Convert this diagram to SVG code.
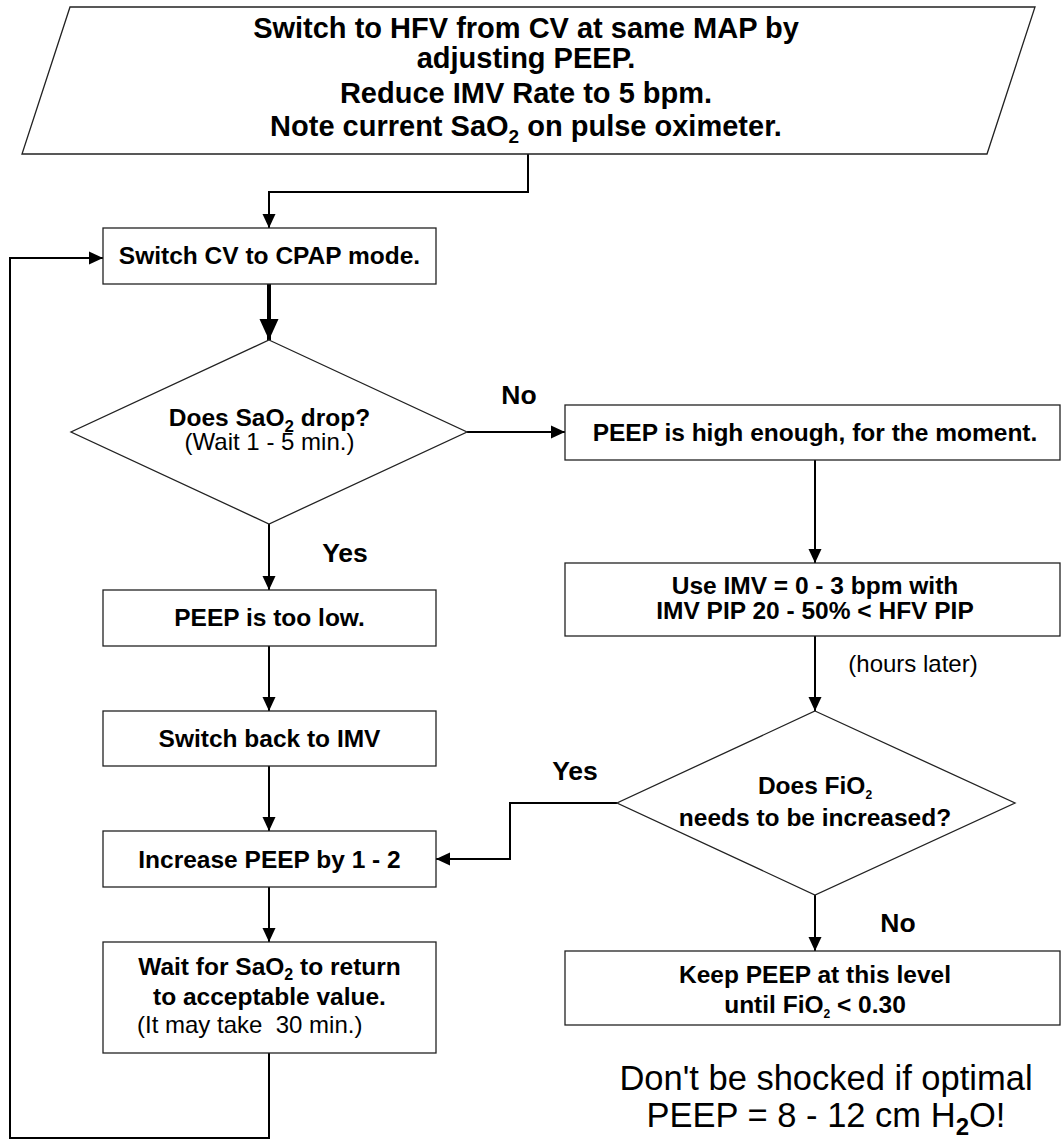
<svg xmlns="http://www.w3.org/2000/svg" width="1064" height="1141" viewBox="0 0 1064 1141">
<style>
  .shape { fill: #ffffff; stroke: #222222; stroke-width: 1.3; }
  .conn { fill: none; stroke: #000000; stroke-width: 2; }
  .thick { fill: none; stroke: #000000; stroke-width: 4; }
  text { font-family: "Liberation Sans", Arial, Helvetica, sans-serif; fill: #000000; }
  .b { font-weight: bold; font-size: 24.5px; text-anchor: middle; }
  .lbl { font-weight: bold; font-size: 26.5px; text-anchor: middle; }
  .r { font-size: 24px; text-anchor: middle; }
  .title { font-weight: bold; font-size: 29px; text-anchor: middle; }
  .note { font-size: 34.5px; text-anchor: middle; }
</style>
<defs>
  <marker id="arr" markerUnits="userSpaceOnUse" markerWidth="14" markerHeight="14" refX="14" refY="7" orient="auto">
    <path d="M0,0.5 L14,7 L0,13.5 z" fill="#000"/>
  </marker>
  <marker id="arrBig" markerUnits="userSpaceOnUse" markerWidth="21" markerHeight="20" refX="21" refY="10" orient="auto">
    <path d="M0,0.5 L21,10 L0,19.5 z" fill="#000"/>
  </marker>
</defs>
<rect width="1064" height="1141" fill="#ffffff"/>

<g id="connectors">
  <path class="conn" d="M528,154 V192 H269 V228" marker-end="url(#arr)"/>
  <path class="thick" d="M269,284 V340" marker-end="url(#arrBig)"/>
  <path class="conn" d="M467,432 H565" marker-end="url(#arr)"/>
  <path class="conn" d="M269,524 V590" marker-end="url(#arr)"/>
  <path class="conn" d="M269,646 V711" marker-end="url(#arr)"/>
  <path class="conn" d="M269,766 V831" marker-end="url(#arr)"/>
  <path class="conn" d="M269,887 V942" marker-end="url(#arr)"/>
  <path class="conn" d="M269,1053 V1138 H10 V258 H103" marker-end="url(#arr)"/>
  <path class="conn" d="M815,460 V563" marker-end="url(#arr)"/>
  <path class="conn" d="M815,636 V711" marker-end="url(#arr)"/>
  <path class="conn" d="M617,803 H510 V859 H436" marker-end="url(#arr)"/>
  <path class="conn" d="M815,895 V951" marker-end="url(#arr)"/>
  <text class="lbl" x="519" y="404">No</text>
  <text class="lbl" x="345" y="562">Yes</text>
  <text class="lbl" x="575" y="780">Yes</text>
  <text class="lbl" x="898" y="932">No</text>
  <text class="r" x="913" y="672">(hours later)</text>
</g>

<g id="start">
  <polygon class="shape" points="70,7 1035,7 987,154 22,154"/>
  <text class="title" x="526" y="38">Switch to HFV from CV at same MAP by</text>
  <text class="title" x="526" y="68">adjusting PEEP.</text>
  <text class="title" x="526" y="103">Reduce IMV Rate to 5 bpm.</text>
  <text class="title" x="526" y="136">Note current SaO<tspan font-size="19" dy="7">2</tspan><tspan dy="-7"> on pulse oximeter.</tspan></text>
</g>

<g id="cpap">
  <rect class="shape" x="103" y="228" width="333" height="56"/>
  <text class="b" x="269.5" y="264">Switch CV to CPAP mode.</text>
</g>

<g id="drop">
  <polygon class="shape" points="269,340 467,432 269,524 71,432"/>
  <text class="b" x="269.5" y="426">Does SaO<tspan font-size="17" dy="6">2</tspan><tspan dy="-6"> drop?</tspan></text>
  <text class="r" x="269.5" y="450">(Wait 1 - 5 min.)</text>
</g>

<g id="toolow">
  <rect class="shape" x="103" y="590" width="333" height="56"/>
  <text class="b" x="269.5" y="626">PEEP is too low.</text>
</g>

<g id="switchback">
  <rect class="shape" x="103" y="711" width="333" height="55"/>
  <text class="b" x="269.5" y="747">Switch back to IMV</text>
</g>

<g id="increase">
  <rect class="shape" x="103" y="831" width="333" height="56"/>
  <text class="b" x="269.5" y="868">Increase PEEP by 1 - 2</text>
</g>

<g id="wait">
  <rect class="shape" x="103" y="942" width="333" height="111"/>
  <text class="b" x="269.5" y="975">Wait for SaO<tspan font-size="16" dy="5">2</tspan><tspan dy="-5"> to return</tspan></text>
  <text class="b" x="269.5" y="1005">to acceptable value.</text>
  <text class="r" x="137" y="1033" style="text-anchor:start; white-space:pre" xml:space="preserve">(It may take  30 min.)</text>
</g>

<g id="highenough">
  <rect class="shape" x="565" y="405" width="495" height="55"/>
  <text class="b" x="815" y="441">PEEP is high enough, for the moment.</text>
</g>

<g id="useimv">
  <rect class="shape" x="565" y="563" width="495" height="73"/>
  <text class="b" x="815" y="594">Use IMV = 0 - 3 bpm with</text>
  <text class="b" x="815" y="619">IMV PIP 20 - 50% &lt; HFV PIP</text>
</g>

<g id="fio2">
  <polygon class="shape" points="815,711 1015,803 815,895 617,803"/>
  <text class="b" x="815" y="794">Does FiO<tspan font-size="12" dy="5">2</tspan></text>
  <text class="b" x="815" y="826">needs to be increased?</text>
</g>

<g id="keep">
  <rect class="shape" x="565" y="951" width="495" height="74"/>
  <text class="b" x="815" y="983">Keep PEEP at this level</text>
  <text class="b" x="815" y="1013">until FiO<tspan font-size="12" dy="5">2</tspan><tspan dy="-5"> &lt; 0.30</tspan></text>
</g>

<g id="note">
  <text class="note" x="826" y="1090">Don't be shocked if optimal</text>
  <text class="note" x="826" y="1127">PEEP = 8 - 12 cm H<tspan font-size="24" font-weight="bold" dy="8">2</tspan><tspan dy="-8">O!</tspan></text>
</g>
</svg>
